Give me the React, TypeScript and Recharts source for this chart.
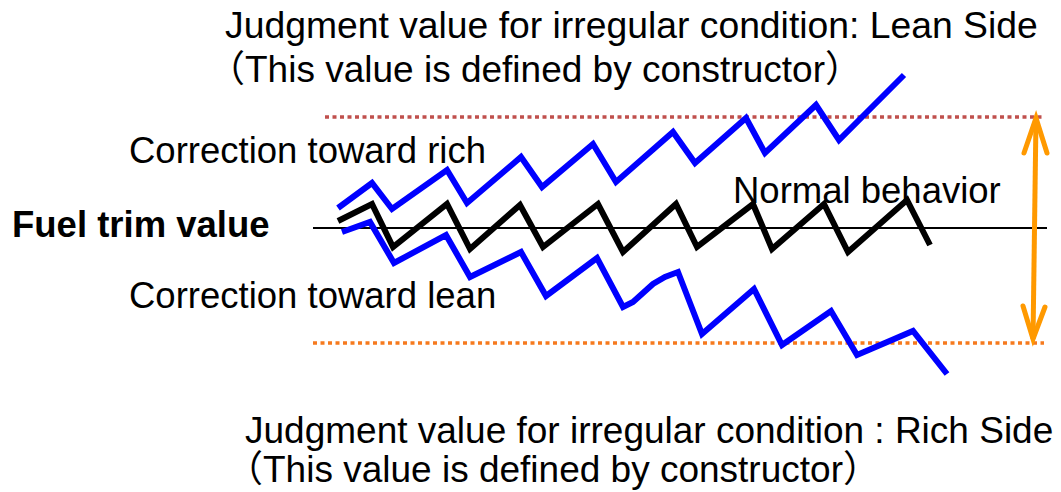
import { LineChart, Line, XAxis, YAxis, ReferenceLine } from "recharts";

// time axis (arbitrary units) and fuel trim value (arbitrary units, 0 = nominal)
const richCorrection = [
  { t: 3.8, v: 2.0 }, { t: 7.2, v: 4.5 }, { t: 9.2, v: 1.9 }, { t: 14.7, v: 5.8 },
  { t: 16.7, v: 2.5 }, { t: 22.1, v: 7.1 }, { t: 24.2, v: 4.1 }, { t: 29.3, v: 8.4 },
  { t: 31.6, v: 4.6 }, { t: 37.3, v: 9.6 }, { t: 39.5, v: 6.5 }, { t: 44.6, v: 11.0 },
  { t: 46.5, v: 7.5 }, { t: 51.6, v: 12.3 }, { t: 53.9, v: 8.8 }, { t: 60.4, v: 15.3 },
];

const normalBehavior = [
  { t: 3.8, v: 0.7 }, { t: 7.2, v: 2.4 }, { t: 9.3, v: -1.9 }, { t: 14.7, v: 2.4 },
  { t: 17.0, v: -2.1 }, { t: 22.0, v: 2.3 }, { t: 24.3, v: -1.9 }, { t: 29.8, v: 2.4 },
  { t: 32.3, v: -2.4 }, { t: 37.6, v: 2.4 }, { t: 39.7, v: -1.9 }, { t: 45.3, v: 2.4 },
  { t: 47.2, v: -2.1 }, { t: 52.4, v: 2.4 }, { t: 54.8, v: -2.4 }, { t: 60.7, v: 2.8 },
  { t: 63.0, v: -1.7 },
];

const leanCorrection = [
  { t: 4.2, v: -0.4 }, { t: 7.0, v: 0.6 }, { t: 9.4, v: -3.5 }, { t: 14.6, v: -0.7 },
  { t: 17.0, v: -4.9 }, { t: 22.1, v: -2.4 }, { t: 24.6, v: -6.8 }, { t: 29.7, v: -3.0 },
  { t: 32.3, v: -7.9 }, { t: 33.3, v: -7.4 }, { t: 35.3, v: -5.6 }, { t: 36.5, v: -4.9 },
  { t: 37.8, v: -4.4 }, { t: 40.2, v: -10.6 }, { t: 45.4, v: -6.1 }, { t: 48.2, v: -11.7 },
  { t: 53.1, v: -8.3 }, { t: 55.7, v: -12.7 }, { t: 61.3, v: -10.3 }, { t: 64.7, v: -14.6 },
];

const leanLimit = 11.1;
const richLimit = -11.5;
const axisStart = 1.3;
const axisEnd = 74.7;
const leanLineStart = 2.5;
const limitLineEnd = 74.5;
const richLineEnd = 74.4;

// double-headed arrow between the two judgment values
const arrowShaft = [{ t: 73.6, v: 11.0 }, { t: 73.3, v: -11.1 }];
const arrowHeadTop = [{ t: 72.4, v: 7.5 }, { t: 73.6, v: 11.0 }, { t: 74.7, v: 7.5 }];
const arrowHeadBottom = [{ t: 72.3, v: -7.8 }, { t: 73.3, v: -11.1 }, { t: 74.5, v: -7.9 }];

const labelTopLine1 = "Judgment value for irregular condition: Lean Side";
const labelTopLine2 = "（This value is defined by constructor）";
const labelBottomLine1 = "Judgment value for irregular condition : Rich Side";
const labelBottomLine2 = "（This value is defined by constructor）";
const labelRich = "Correction toward rich";
const labelLean = "Correction toward lean";
const labelNormal = "Normal behavior";
const labelAxis = "Fuel trim value";

const FONT = "'Liberation Sans', Arial, 'Noto Sans CJK JP', sans-serif";

function App() {
  const textStyle = { fontFamily: FONT, fontSize: 37, fill: "#000" };
  const midStyle = { ...textStyle, fontSize: 36.5 };
  const common = { type: "linear" as const, dot: false, activeDot: false, strokeDasharray: "none", isAnimationActive: false };
  return (
    <div style={{ position: "absolute", left: 0, top: 0, width: 1061, height: 492, background: "#fff" }}>
      <LineChart width={1061} height={492} margin={{ top: 0, right: 0, bottom: 0, left: 0 }}>
        <XAxis type="number" dataKey="t" domain={[-30, 76.1]} hide allowDataOverflow />
        <YAxis type="number" dataKey="v" domain={[-26.4, 22.8]} hide allowDataOverflow />

        <ReferenceLine segment={[{ x: axisStart, y: 0 }, { x: axisEnd, y: 0 }]} stroke="#000" strokeWidth={2} />
        <ReferenceLine
          segment={[{ x: leanLineStart, y: leanLimit }, { x: limitLineEnd, y: leanLimit }]}
          stroke="#C0504D"
          strokeWidth={3.5}
          strokeDasharray="4 3.5"
        />
        <ReferenceLine
          segment={[{ x: axisStart, y: richLimit }, { x: richLineEnd, y: richLimit }]}
          stroke="#F67A1E"
          strokeWidth={3.5}
          strokeDasharray="4 3.5"
        />

        <Line {...common} data={richCorrection} dataKey="v" stroke="#0000FF" strokeWidth={6} />
        <Line {...common} data={leanCorrection} dataKey="v" stroke="#0000FF" strokeWidth={6} />
        <Line {...common} data={normalBehavior} dataKey="v" stroke="#000000" strokeWidth={6} />

        <Line {...common} data={arrowShaft} dataKey="v" stroke="#FF9900" strokeWidth={5} />
        <Line {...common} data={arrowHeadTop} dataKey="v" stroke="#FF9900" strokeWidth={5} strokeLinecap="round" />
        <Line {...common} data={arrowHeadBottom} dataKey="v" stroke="#FF9900" strokeWidth={5} strokeLinecap="round" />

        <text x={225} y={38} style={{ ...textStyle, fontSize: 37.3 }}>{labelTopLine1}</text>
        <text x={208} y={82} style={textStyle}>{labelTopLine2}</text>
        <text x={129} y={163} style={midStyle}>{labelRich}</text>
        <text x={12} y={237} style={{ ...midStyle, fontWeight: "bold" }}>{labelAxis}</text>
        <text x={733} y={203} style={midStyle}>{labelNormal}</text>
        <text x={129} y={308} style={midStyle}>{labelLean}</text>
        <text x={245} y={443} style={textStyle}>{labelBottomLine1}</text>
        <text x={226} y={482} style={textStyle}>{labelBottomLine2}</text>
      </LineChart>
    </div>
  );
}

export default App;
